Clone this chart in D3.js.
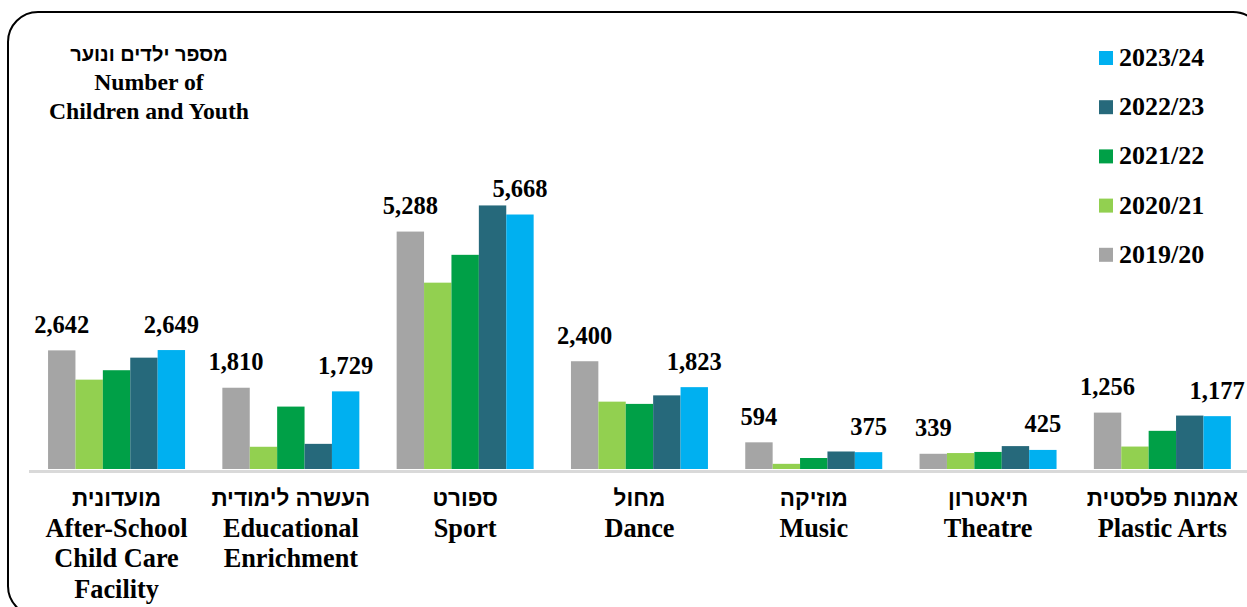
<html>
<head>
    <meta content="text/html;charset=utf-8" http-equiv="Content-Type"/>
    <style>
        body { margin: 0; background: #fff; }
    </style>
</head>
<body>

<svg id="chart" width="1247" height="607">
    <g id="frame"></g>
    <g id="bars"></g>
    <g id="labels"></g>
    <g id="cats"></g>
    <g id="legend"></g>
    <g id="title"></g>
</svg>

<script src="https://d3js.org/d3.v7.min.js"></script>
<script>
    // categories, hebrew first line + english lines under it
    const categories = ["after", "edu", "sport", "dance", "music", "theatre", "arts"];
    const catHebrew = ["מועדונית", "העשרה לימודית", "ספורט", "מחול", "מוזיקה", "תיאטרון", "אמנות פלסטית"];
    const catEnglish = [
        ["After-School", "Child Care", "Facility"],
        ["Educational", "Enrichment"],
        ["Sport"],
        ["Dance"],
        ["Music"],
        ["Theatre"],
        ["Plastic Arts"]
    ];

    const years = ["2019/20", "2020/21", "2021/22", "2022/23", "2023/24"];
    const colors = ["#a5a5a5", "#92d050", "#00a047", "#26697b", "#00b0f0"];

    // one array per school year, in category order
    const v2019 = [2642, 1810, 5288, 2400, 594, 339, 1256];
    const v2020 = [1990, 495, 4150, 1500, 115, 355, 500];
    const v2021 = [2200, 1390, 4770, 1450, 245, 380, 850];
    const v2022 = [2480, 560, 5870, 1640, 390, 510, 1190];
    const v2023 = [2649, 1729, 5668, 1823, 375, 425, 1177];
    const series = [v2019, v2020, v2021, v2022, v2023];

    const titleLines = ["מספר ילדים ונוער", "Number of", "Children and Youth"];

    const SERIF = "'Liberation Serif', 'Times New Roman', serif";
    const HEB = "'Liberation Sans', Arial, sans-serif";

    const svg = d3.select('#chart');
    const baseY = 469;

    const x0 = d3.scaleBand()
        .domain(categories)
        .range([29.4, 1249.5])
        .paddingInner(0.214)
        .paddingOuter(0.107);
    const x1 = d3.scaleBand()
        .domain(d3.range(years.length))
        .range([0, x0.bandwidth()]);
    const y = d3.scaleLinear()
        .domain([0, 6000])
        .range([baseY, 199.6]);

    // rounded border, runs off the right and bottom edge like the original
    svg.select('#frame').append('rect')
        .attr('x', 8).attr('y', 12)
        .attr('width', 1255).attr('height', 604)
        .attr('rx', 30).attr('ry', 30)
        .attr('style', 'fill:none;stroke:#000;stroke-width:2');

    const data = categories.map(function(c, ci) {
        return years.map(function(yr, si) {
            return {c: c, s: si, v: series[si][ci]};
        });
    }).flat();

    svg.select('#bars')
        .selectAll('rect')
        .data(data)
        .enter()
        .append('rect')
        .attr('x', function(d) { return x0(d.c) + x1(d.s); })
        .attr('y', function(d) { return y(d.v); })
        .attr('width', x1.bandwidth())
        .attr('height', function(d) { return baseY - y(d.v); })
        .attr('fill', function(d) { return colors[d.s]; });

    // baseline
    svg.select('#bars').append('line')
        .attr('x1', 29).attr('x2', 1247)
        .attr('y1', baseY + 2.5).attr('y2', baseY + 2.5)
        .attr('style', 'stroke:#d9d9d9;stroke-width:3');

    // value labels only on first and last year
    const fmt = d3.format(',');
    svg.select('#labels')
        .selectAll('text')
        .data(data.filter(function(d) { return d.s === 0 || d.s === years.length - 1; }))
        .enter()
        .append('text')
        .attr('x', function(d) { return x0(d.c) + x1(d.s) + x1.bandwidth() / 2; })
        .attr('y', function(d) { return y(d.v) - 17.5; })
        .attr('text-anchor', 'middle')
        .style('font-family', SERIF)
        .style('font-weight', 'bold')
        .style('font-size', '24.5px')
        .text(function(d) { return fmt(d.v); });

    // category labels
    const cats = svg.select('#cats')
        .selectAll('g')
        .data(categories)
        .enter()
        .append('g')
        .attr('transform', function(c) { return 'translate(' + (x0(c) + x0.bandwidth() / 2) + ',0)'; });
    cats.append('text')
        .attr('y', 506)
        .attr('text-anchor', 'middle')
        .style('font-family', HEB)
        .style('font-weight', 'bold')
        .style('font-size', '22.5px')
        .text(function(c, i) { return catHebrew[i]; });
    cats.each(function(c, i) {
        d3.select(this).selectAll('text.en')
            .data(catEnglish[i])
            .enter()
            .append('text')
            .attr('class', 'en')
            .attr('y', function(t, j) { return 537 + j * 30.3; })
            .attr('text-anchor', 'middle')
            .style('font-family', SERIF)
            .style('font-weight', 'bold')
            .style('font-size', '26.3px')
            .text(function(t) { return t; });
    });

    // legend, newest year on top
    const legendOrder = d3.range(years.length).reverse();
    const leg = svg.select('#legend')
        .selectAll('g')
        .data(legendOrder)
        .enter()
        .append('g')
        .attr('transform', function(s, i) { return 'translate(1099,' + (51 + i * 49.2) + ')'; });
    leg.append('rect')
        .attr('width', 14).attr('height', 14)
        .attr('fill', function(s) { return colors[s]; });
    leg.append('text')
        .attr('x', 20).attr('y', 15)
        .style('font-family', SERIF)
        .style('font-weight', 'bold')
        .style('font-size', '26px')
        .text(function(s) { return years[s]; });

    // y axis title, top left
    svg.select('#title')
        .selectAll('text')
        .data(titleLines)
        .enter()
        .append('text')
        .attr('x', 149)
        .attr('y', function(t, i) { return 61 + i * 29; })
        .attr('text-anchor', 'middle')
        .style('font-family', function(t, i) { return i === 0 ? HEB : SERIF; })
        .style('font-weight', 'bold')
        .style('font-size', function(t, i) { return i === 0 ? '20px' : '23.7px'; })
        .text(function(t) { return t; });
</script>

</body>
</html>
